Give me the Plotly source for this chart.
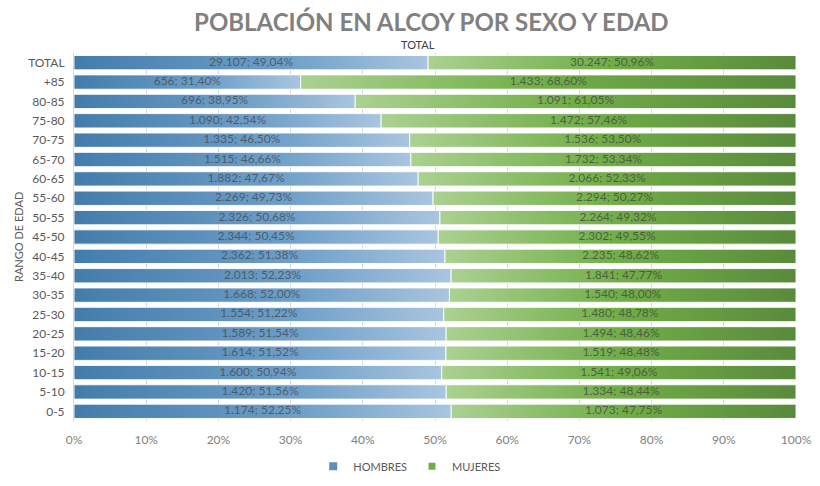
import plotly.graph_objects as go

categories = ["TOTAL", "+85", "80-85", "75-80", "70-75", "65-70", "60-65", "55-60",
              "50-55", "45-50", "40-45", "35-40", "30-35", "25-30", "20-25", "15-20",
              "10-15", "5-10", "0-5"]
hombres = [29107, 656, 696, 1090, 1335, 1515, 1882, 2269, 2326, 2344, 2362, 2013,
           1668, 1554, 1589, 1614, 1600, 1420, 1174]
hombres_pct = [49.04, 31.40, 38.95, 42.54, 46.50, 46.66, 47.67, 49.73, 50.68, 50.45,
               51.38, 52.23, 52.00, 51.22, 51.54, 51.52, 50.94, 51.56, 52.25]
mujeres = [30247, 1433, 1091, 1472, 1536, 1732, 2066, 2294, 2264, 2302, 2235, 1841,
           1540, 1480, 1494, 1519, 1541, 1334, 1073]
mujeres_pct = [50.96, 68.60, 61.05, 57.46, 53.50, 53.34, 52.33, 50.27, 49.32, 49.55,
               48.62, 47.77, 48.00, 48.78, 48.46, 48.48, 49.06, 48.44, 47.75]
x_ticks = [0, 0.1, 0.2, 0.3, 0.4, 0.5, 0.6, 0.7, 0.8, 0.9, 1.0]

FONT = "Lato"
BAR_HALF = 0.37
BLUE_SCALE = [[0, "#437cab"], [0.6, "#6f9fc8"], [1, "#a9c5df"]]
GREEN_SCALE = [[0, "#abd191"], [0.5, "#70ad47"], [1, "#5a8a3c"]]


def fmt_int(v):
    return f"{v:,}".replace(",", ".")


def fmt_pct(p):
    return f"{p:.2f}".replace(".", ",") + "%"


fig = go.Figure()


def add_bar(i, x0, x1, scale, name):
    y0, y1 = i - BAR_HALF, i + BAR_HALF
    fig.add_trace(go.Scatter(
        x=[x0, x1, x1, x0, x0], y=[y0, y0, y1, y1, y0],
        mode="lines", fill="toself",
        line=dict(color="rgba(255,255,255,0.9)", width=1),
        fillgradient=dict(type="horizontal", colorscale=scale, start=x0, stop=x1),
        name=name, legendgroup=name, showlegend=False, hoverinfo="skip",
    ))


for i, cat in enumerate(categories):
    h = hombres_pct[i] / 100.0
    add_bar(i, 0, h, BLUE_SCALE, "HOMBRES")
for i, cat in enumerate(categories):
    h = hombres_pct[i] / 100.0
    add_bar(i, h, 1.0, GREEN_SCALE, "MUJERES")

# legend entries (no data drawn)
fig.add_trace(go.Scatter(x=[None], y=[None], name="HOMBRES", mode="markers",
                         marker=dict(symbol="square", size=8, color="#5b8fbd"),
                         legendgroup="HOMBRES"))
fig.add_trace(go.Scatter(x=[None], y=[None], name="MUJERES", mode="markers",
                         marker=dict(symbol="square", size=7, color="#70ad47"),
                         legendgroup="MUJERES"))

ys = list(range(len(categories)))
fig.add_trace(go.Scatter(
    x=[p / 200.0 for p in hombres_pct], y=ys, mode="text",
    text=[f"{fmt_int(v)}; {fmt_pct(p)}" for v, p in zip(hombres, hombres_pct)],
    textfont=dict(family=FONT, size=12, color="rgba(70,80,90,0.85)"),
    textposition="middle center", showlegend=False, hoverinfo="skip",
))
fig.add_trace(go.Scatter(
    x=[hp / 100.0 + mp / 200.0 for hp, mp in zip(hombres_pct, mujeres_pct)], y=ys,
    mode="text",
    text=[f"{fmt_int(v)}; {fmt_pct(p)}" for v, p in zip(mujeres, mujeres_pct)],
    textfont=dict(family=FONT, size=12, color="rgba(70,80,60,0.85)"),
    textposition="middle center", showlegend=False, hoverinfo="skip",
))

fig.update_layout(
    width=820, height=486,
    margin=dict(l=74, r=24, t=53, b=65, autoexpand=False),
    paper_bgcolor="white", plot_bgcolor="white",
    font=dict(family=FONT, color="#595959"),
    title=dict(text="<b>POBLACIÓN EN ALCOY POR SEXO Y EDAD</b>",
               x=0.526, xanchor="center", y=0.953, yanchor="middle",
               font=dict(family=FONT, size=24, color="#808080")),
    xaxis=dict(range=[0, 1.0], tickvals=x_ticks, tickformat=".0%",
               showgrid=True, gridcolor="#d9d9d9", gridwidth=1,
               zeroline=False, showline=False, automargin=False,
               tickfont=dict(family=FONT, size=12, color="#808080"),
               ticks="", ticklabelstandoff=10),
    yaxis=dict(range=[len(categories) - 0.5, -0.5], tickvals=ys, ticktext=categories,
               showgrid=False, zeroline=False, showline=True, linecolor="#d9d9d9",
               automargin=False,
               tickfont=dict(family=FONT, size=12, color="#595959"),
               ticks="", ticklabelstandoff=6),
    legend=dict(orientation="h", x=0.465, xanchor="center", y=-0.123, yanchor="middle",
                font=dict(family=FONT, size=11, color="#595959"),
                itemwidth=30, tracegroupgap=0, itemsizing="trace"),
    annotations=[
        dict(text="TOTAL", xref="paper", yref="paper", x=0.476, y=1.0,
             xanchor="center", yanchor="bottom", showarrow=False,
             font=dict(family=FONT, size=11, color="#404040")),
        dict(text="RANGO DE EDAD", xref="paper", yref="paper", x=-0.0776, y=0.5,
             xanchor="center", yanchor="middle", textangle=-90, showarrow=False,
             font=dict(family=FONT, size=11, color="#595959")),
    ],
)

fig.write_html("out.html")
